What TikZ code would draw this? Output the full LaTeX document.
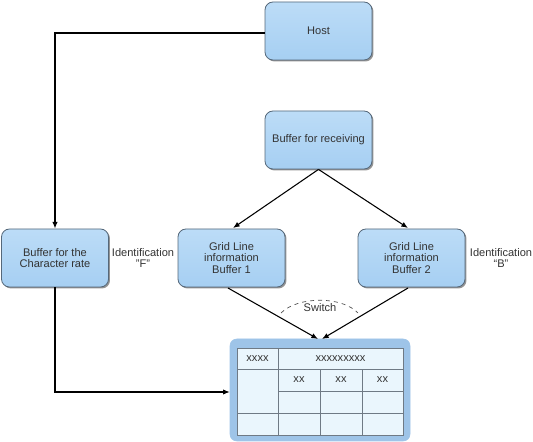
\documentclass[tikz,border=0pt]{standalone}
\usepackage{fontspec}
\setmainfont{Liberation Sans}
\usetikzlibrary{shadows,arrows.meta}
\definecolor{boxfill}{HTML}{A6CFF2}
\definecolor{boxtop}{HTML}{BCDCF7}
\definecolor{boxedge}{HTML}{55687A}
\definecolor{tblfill}{HTML}{9EC4E8}
\definecolor{cellfill}{HTML}{EAF6FD}
\definecolor{celledge}{HTML}{6F7A85}
\definecolor{txt}{HTML}{333333}
\begin{document}
\begin{tikzpicture}[x=0.75pt,y=-0.75pt,
  bx/.style={draw=boxedge,line width=0.6pt,rounded corners=6pt,top color=boxtop,bottom color=boxfill,
    drop shadow={shadow xshift=1.1pt,shadow yshift=-1.1pt,fill=black!60,opacity=0.7},
    minimum width=107*0.75pt,minimum height=58*0.75pt,align=center,inner sep=1pt,
    font=\fontsize{8.3}{8.6}\selectfont,text=txt},
  lbl/.style={align=center,font=\fontsize{8.3}{8.6}\selectfont,text=txt},
  cell/.style={draw=celledge,line width=0.5pt,fill=cellfill,font=\fontsize{8.3}{8.6}\selectfont,text=txt,inner sep=0pt,
    drop shadow={shadow xshift=0.6pt,shadow yshift=-0.6pt,fill=black!55,opacity=0.8}},
  conn/.style={draw=black,line width=0.8pt,-{Latex[length=5pt,width=4pt]}}]
\useasboundingbox (0,0) rectangle (533,442);
\node[bx] (host) at (318.5,31) {Host};
\node[bx] (recv) at (318.5,140) {Buffer for receiving};
\node[bx] (char) at (55,258) {Buffer for the\\Character rate};
\node[bx] (g1) at (231.5,258) {Grid Line\\information\\Buffer 1};
\node[bx] (g2) at (411.5,258) {Grid Line\\information\\Buffer 2};
\node[lbl] (idf) at (143,258) {Identification\\"F"};
\node[lbl] (idb) at (501,258) {Identification\\“B”};
% table
\node[draw=tblfill,fill=tblfill,rounded corners=5pt,minimum width=180*0.75pt,minimum height=102*0.75pt,inner sep=0pt] (tbl) at (320,390) {};
\node[cell,minimum width=41*0.75pt,minimum height=21*0.75pt] (c11) at (257.5,358.5) {xxxx};
\node[cell,minimum width=125*0.75pt,minimum height=21*0.75pt] (c12) at (340.5,358.5) {xxxxxxxxx};
\node[cell,minimum width=41*0.75pt,minimum height=44*0.75pt] (c21) at (257.5,391) {};
\node[cell,minimum width=42*0.75pt,minimum height=22*0.75pt] (c22) at (299,380) {xx};
\node[cell,minimum width=42*0.75pt,minimum height=22*0.75pt] (c23) at (341,380) {xx};
\node[cell,minimum width=41*0.75pt,minimum height=22*0.75pt] (c24) at (382.5,380) {xx};
\node[cell,minimum width=42*0.75pt,minimum height=22*0.75pt] (c32) at (299,402) {};
\node[cell,minimum width=42*0.75pt,minimum height=22*0.75pt] (c33) at (341,402) {};
\node[cell,minimum width=41*0.75pt,minimum height=22*0.75pt] (c34) at (382.5,402) {};
\node[cell,minimum width=41*0.75pt,minimum height=22*0.75pt] (c41) at (257.5,424.5) {};
\node[cell,minimum width=42*0.75pt,minimum height=22*0.75pt] (c42) at (299,424.5) {};
\node[cell,minimum width=42*0.75pt,minimum height=22*0.75pt] (c43) at (341,424.5) {};
\node[cell,minimum width=41*0.75pt,minimum height=22*0.75pt] (c44) at (382.5,424.5) {};
% connectors
\coordinate (hc) at (55,33);
\coordinate (cc) at (55,392);
\coordinate (t1) at (318,339);
\coordinate (t2) at (322,339);
\draw[conn] (host.west |- hc) -- (hc) -- (char.north);
\draw[conn] (char.south) -- (cc) -- (tbl.west |- cc);
\draw[conn] (recv.south) -- (233,228);
\draw[conn] (recv.south) -- (408,228);
\draw[conn] (228,288) -- (t1);
\draw[conn] (408,288) -- (t2);
\draw[dashed,black!70,line width=0.5pt] (281,313) .. controls (298,296) and (342,296) .. (358,313);
\node[lbl,fill=white,inner sep=1pt] (sw) at (320,308) {Switch};
\end{tikzpicture}
\end{document}
